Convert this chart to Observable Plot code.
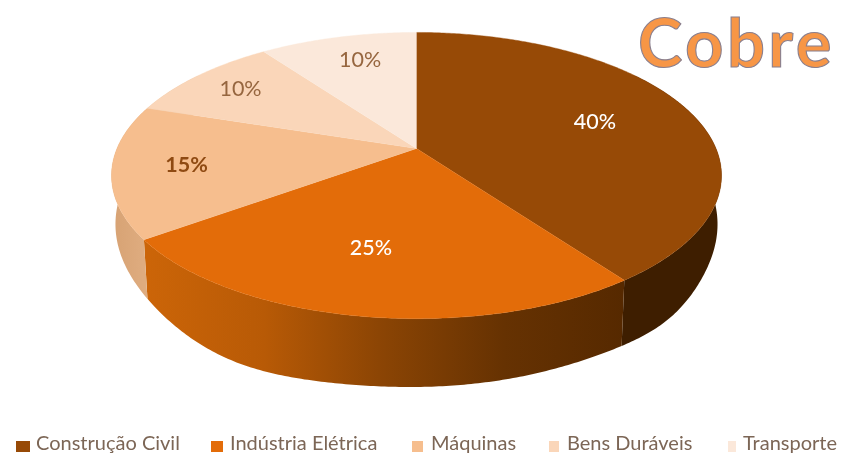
<!DOCTYPE html>
<html lang="pt">
<head>
<meta charset="utf-8">
<script src="https://cdn.jsdelivr.net/npm/d3@7"></script>
<script src="https://cdn.jsdelivr.net/npm/@observablehq/plot@0.6"></script>
<style>
  html,body{margin:0;padding:0;background:#fff;width:842px;height:453px;overflow:hidden}
  #wrap{position:relative;width:842px;height:453px;filter:blur(.7px)}
  #chart svg{display:block;position:absolute;left:0;top:0}
  h1{position:absolute;margin:0;left:638px;top:8px;font:700 67px/67px Lato,sans-serif;color:#F79646;
     -webkit-text-stroke:1.1px #8a7f8e;letter-spacing:3.4px;white-space:nowrap}
  .leg{position:absolute;top:431px;height:22px;font:20px/22px Lato,sans-serif;color:#7c6656;white-space:nowrap}
  .leg i{position:absolute;top:10px;height:11px}
</style>
</head>
<body>
<div id="wrap">
  <div id="chart"></div>
  <h1>Cobre</h1>
  <div id="legend"></div>
</div>
<script>
// Data
const categories = ["Construção Civil", "Indústria Elétrica", "Máquinas", "Bens Duráveis", "Transporte"];
const shares = [40, 25, 15, 10, 10];
const topColors = ["#974A06", "#E36C09", "#F6BE8E", "#FAD6B9", "#FBE8DA"];
const labelColors = ["#ffffff", "#ffffff", "#8f4a12", "#96663f", "#96663f"];
const labelWeights = ["500", "500", "700", "400", "400"];
// side shading of each slice, left to right on the screen
const sideStops = [
  ["#3E1E00", "#3E1E00", "#3E1E00"],
  ["#CC6508", "#B85A06", "#8A4404", "#663202", "#562900"],
  ["#D7A273", "#E0AE82"],
  ["#E8C5A5", "#E8C5A5"],
  ["#EEDCCC", "#EEDCCC"]
];

// Layout of the tilted pie
const W = 842, H = 400;
const cx = 416, cy = 148, a = 299.5, b = 138, k = 0.189;
const labelR = [0.65, 0.65, 0.76, 0.79, 0.76];
const labelTurn = [0, 0.05, 0, 0, 0.028];
const dropMid = 45 / b, stretch = 1.135, shrink = 0.987;
// the lower rim of the wall bulges a little at two places of the reference
const bulges = [{at: 212, width: 18, size: 8 / b}, {at: 132, width: 14, size: 6 / b}];

const total = d3.sum(shares);
let acc = 0;
const slices = shares.map((v, i) => {
  const s = acc / total * 2 * Math.PI;
  acc += v;
  return {i, v, s, e: acc / total * 2 * Math.PI};
});
const proj = (r, t) => {
  const u = r * Math.sin(t), v = r * Math.cos(t), d = 1 + k * v;
  return [u / d, v / d];
};
const base = t => {
  const [x, y] = proj(1, t);
  const deg = t * 180 / Math.PI;
  const extra = d3.sum(bulges, g => g.size * Math.exp(-(((deg - g.at) / g.width) ** 2)));
  return [x * shrink, y * stretch - dropMid - extra];
};
const arc = (f, t0, t1) => {
  const n = Math.ceil(Math.abs(t1 - t0) / 0.01);
  return d3.range(n + 1).map(j => f(t0 + (t1 - t0) * j / n));
};

// top faces
const facePts = slices.flatMap(sl =>
  [[0, 0], ...arc(t => proj(1, t), sl.s, sl.e)].map(([x, y]) => ({slice: sl.i, x, y, color: topColors[sl.i]}))
);

// side walls: one outline per slice, front part only
const sides = slices.map(sl => {
  const lo = Math.max(sl.s, Math.PI * 0.3), hi = Math.min(sl.e, Math.PI * 1.7);
  if (hi <= lo) return [];
  return [...arc(t => proj(1, t), lo, hi), ...arc(base, hi, lo)].map(([x, y]) => ({x, y}));
});

// percentage labels
const labels = slices.map(sl => {
  const [x, y] = proj(labelR[sl.i], (sl.s + sl.e) / 2 + labelTurn[sl.i]);
  return {x, y, text: sl.v + "%", color: labelColors[sl.i], weight: labelWeights[sl.i]};
});

// gradient definitions used as fills of the side walls
const gradients = () => {
  const ns = "http://www.w3.org/2000/svg";
  const defs = document.createElementNS(ns, "defs");
  sideStops.forEach((stops, i) => {
    const g = document.createElementNS(ns, "linearGradient");
    g.setAttribute("id", "side" + i);
    stops.forEach((c, j) => {
      const st = document.createElementNS(ns, "stop");
      st.setAttribute("offset", j / (stops.length - 1));
      st.setAttribute("stop-color", c);
      g.append(st);
    });
    defs.append(g);
  });
  return defs;
};

const chart = Plot.plot({
  width: W, height: H, margin: 0,
  style: {background: "transparent"},
  x: {domain: [-cx / a, (W - cx) / a], range: [0, W], axis: null},
  y: {domain: [cy / b, (cy - H) / b], range: [0, H], axis: null},
  color: {type: "identity"},
  marks: [
    gradients,
    ...sides.map((pts, i) => Plot.line(pts, {x: "x", y: "y", fill: `url(#side${i})`, stroke: "none"})),
    Plot.line(facePts, {x: "x", y: "y", z: "slice", fill: "color", stroke: "color", strokeWidth: 0.4}),
    ...labels.map(d => Plot.text([d], {
      x: "x", y: "y", text: "text", fill: d.color,
      fontSize: 21.5, fontWeight: d.weight, fontFamily: "Lato, sans-serif"
    }))
  ]
});
document.getElementById("chart").append(chart);

// legend below the chart
const legendLeft = [16, 211, 412, 549, 728];
const legendText = [36, 230, 431, 567, 743];
const legendSwatch = [14, 12, 11, 10, 8];
const legend = document.getElementById("legend");
categories.forEach((c, i) => {
  const el = document.createElement("div");
  el.className = "leg";
  el.style.left = legendLeft[i] + "px";
  el.style.paddingLeft = (legendText[i] - legendLeft[i]) + "px";
  const sw = document.createElement("i");
  sw.style.left = "0"; sw.style.width = legendSwatch[i] + "px"; sw.style.background = topColors[i];
  el.append(sw, c);
  legend.append(el);
});
</script>
</body>
</html>
